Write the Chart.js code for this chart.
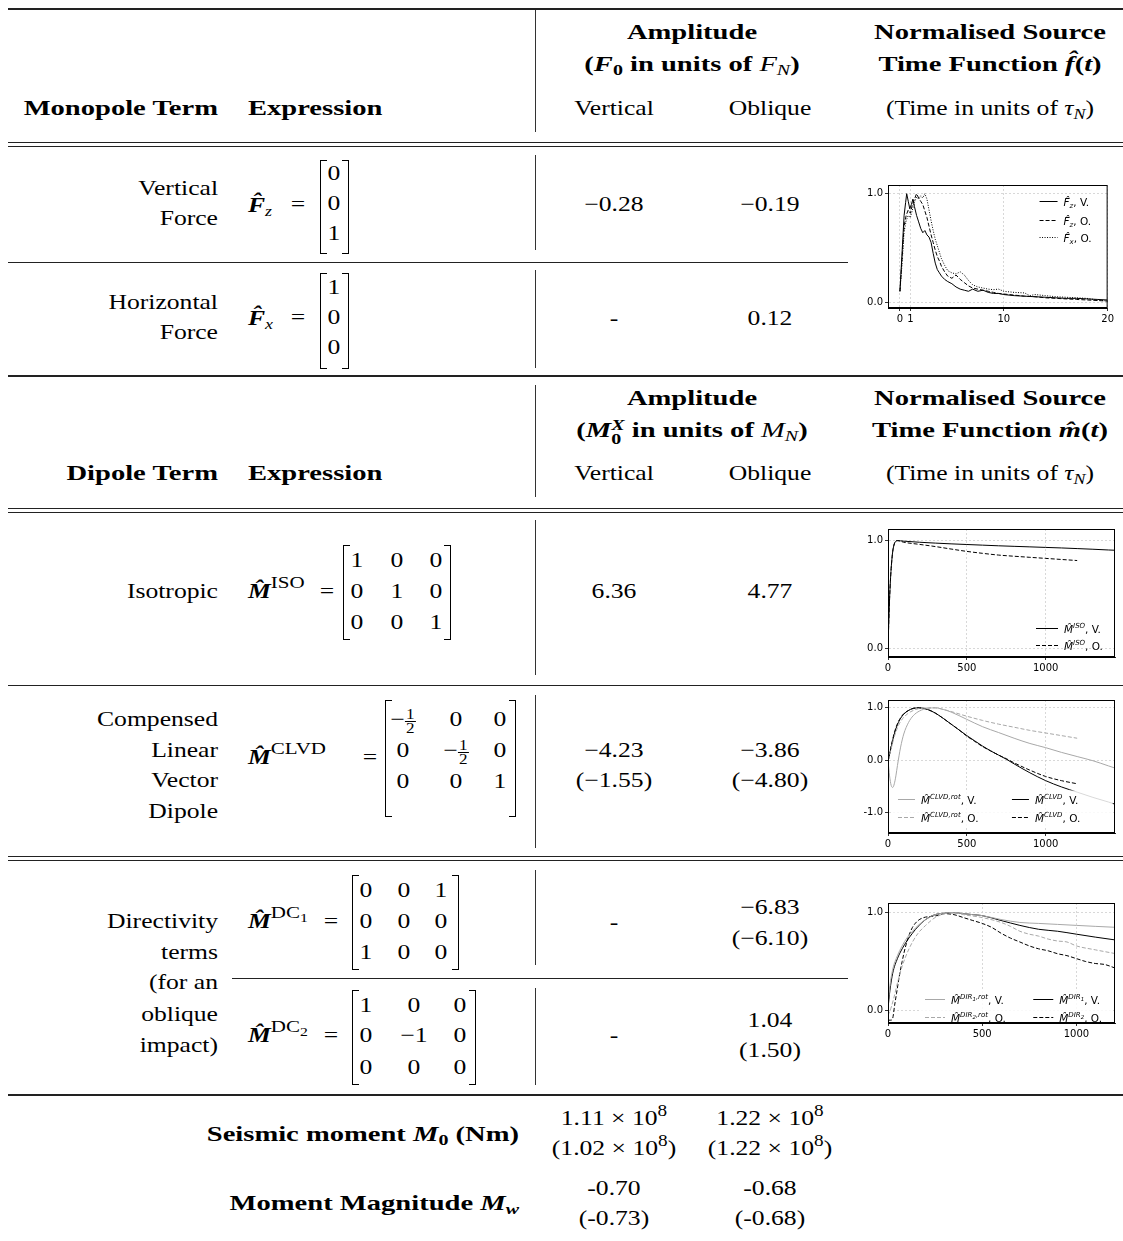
<!DOCTYPE html>
<html>
<head>
<meta charset="utf-8">
<script src="https://cdn.jsdelivr.net/npm/chart.js@4.4.0/dist/chart.umd.min.js"></script>
<style>
html, body { margin: 0; padding: 0; background: #fff; }
#page { position: relative; width: 1123px; height: 1241px; overflow: hidden; font-family: "Liberation Serif", serif; color: #000; }
.t { position: absolute; white-space: nowrap; font-size: 21px; line-height: 24px; transform-origin: 0 0; }
.t sub { font-size: 0.7em; vertical-align: -0.3em; line-height: 0; }
.t sup { font-size: 0.75em; vertical-align: 0.55em; line-height: 0; }
.t sup.m { font-size: 0.82em; vertical-align: 0.6em; }
.t sup sub { font-size: 0.75em; }
.n { font-weight: normal; }
.ss { display: inline-block; vertical-align: -0.45em; font-size: 0.7em; line-height: 0.95em; }
.ss span { display: block; }
.fr { display: inline-block; vertical-align: middle; font-size: 14px; line-height: 13px; text-align: center; }
.fr span { display: block; padding: 0 1px; }
.fr span:first-child { border-bottom: 1px solid #000; }
.rule { position: absolute; background: #222; }
.vr { position: absolute; width: 1px; background: #333; left: 535px; }
.br { position: absolute; width: 6px; border: 0 solid #000; }
canvas { position: absolute; }
</style>
</head>
<body>
<div id="page">
  <canvas id="c1" width="258" height="147" style="left:858px;top:177px"></canvas>
  <canvas id="c2" width="263" height="152" style="left:858px;top:521px"></canvas>
  <canvas id="c3" width="263" height="157" style="left:858px;top:692px"></canvas>
  <canvas id="c4" width="263" height="144" style="left:858px;top:895px"></canvas>
</div>
<script>
// ---- mini chart 1: force source time functions (time in tau_N) ----
const fzV_t = [0, 0.2, 0.4, 0.55, 0.65, 0.8, 0.95, 1.1, 1.25, 1.4, 1.6, 1.8, 2.0, 2.2, 2.4, 2.6, 2.8, 3.0, 3.2, 3.4, 3.6, 3.8, 4.0, 4.3, 4.6, 5.0, 5.4, 5.8, 6.2, 6.6, 7.0, 7.5, 8.0, 8.5, 9.0, 9.5, 10, 11, 12, 13, 14, 15, 16, 17, 18, 19, 20];
const fzV   = [0.10, 0.45, 0.80, 0.92, 1.00, 0.93, 0.86, 0.90, 0.95, 0.88, 0.80, 0.74, 0.68, 0.64, 0.66, 0.62, 0.60, 0.55, 0.45, 0.36, 0.30, 0.27, 0.24, 0.21, 0.19, 0.17, 0.14, 0.12, 0.11, 0.10, 0.12, 0.10, 0.11, 0.09, 0.08, 0.08, 0.07, 0.06, 0.055, 0.05, 0.045, 0.04, 0.035, 0.035, 0.03, 0.025, 0.02];
const fzO_t = [0, 0.2, 0.4, 0.6, 0.8, 1.0, 1.2, 1.4, 1.6, 1.8, 2.0, 2.2, 2.4, 2.6, 2.8, 3.0, 3.2, 3.4, 3.6, 3.8, 4.0, 4.3, 4.6, 5.0, 5.4, 5.8, 6.2, 6.6, 7.0, 7.5, 8.0, 8.5, 9.0, 9.5, 10, 11, 12, 13, 14, 15, 16, 17, 18, 19, 20];
const fzO   = [0.10, 0.40, 0.70, 0.80, 0.85, 0.82, 0.90, 0.95, 1.00, 0.96, 0.93, 0.90, 0.84, 0.78, 0.70, 0.62, 0.55, 0.48, 0.42, 0.38, 0.33, 0.28, 0.24, 0.22, 0.25, 0.21, 0.18, 0.15, 0.13, 0.12, 0.11, 0.10, 0.09, 0.08, 0.075, 0.065, 0.055, 0.05, 0.04, 0.035, 0.03, 0.025, 0.02, 0.015, 0.01];
const fxO_t = [0, 0.2, 0.4, 0.6, 0.8, 1.0, 1.2, 1.4, 1.6, 1.8, 2.0, 2.2, 2.4, 2.6, 2.8, 3.0, 3.2, 3.4, 3.6, 3.8, 4.0, 4.3, 4.6, 5.0, 5.4, 5.8, 6.2, 6.6, 7.0, 7.5, 8.0, 8.5, 9.0, 9.5, 10, 11, 12, 12.5, 13, 14, 15, 16, 17, 18, 19, 20];
const fxO   = [0.10, 0.35, 0.65, 0.75, 0.80, 0.78, 0.85, 0.92, 0.97, 0.95, 0.98, 0.96, 1.00, 0.95, 0.85, 0.75, 0.66, 0.58, 0.52, 0.46, 0.40, 0.34, 0.29, 0.27, 0.26, 0.28, 0.25, 0.20, 0.16, 0.14, 0.13, 0.12, 0.115, 0.12, 0.10, 0.09, 0.085, 0.06, 0.07, 0.06, 0.05, 0.045, 0.04, 0.035, 0.02, 0.01];

// ---- mini chart 2: isotropic ----
const isoV_t = [0, 5, 10, 15, 20, 25, 30, 40, 50, 60, 100, 200, 300, 400, 500, 600, 700, 800, 900, 1000, 1100, 1200, 1300, 1400, 1450];
const isoV   = [0, 0.25, 0.46, 0.62, 0.74, 0.83, 0.90, 0.97, 0.995, 1.0, 0.995, 0.985, 0.977, 0.970, 0.964, 0.958, 0.952, 0.947, 0.942, 0.937, 0.932, 0.926, 0.920, 0.913, 0.910];
const isoO_t = [0, 5, 10, 15, 20, 25, 30, 40, 50, 60, 100, 200, 300, 400, 500, 600, 700, 800, 900, 1000, 1100, 1200];
const isoO   = [0, 0.25, 0.46, 0.62, 0.74, 0.83, 0.90, 0.97, 0.995, 1.0, 0.985, 0.965, 0.945, 0.922, 0.900, 0.882, 0.866, 0.855, 0.845, 0.835, 0.825, 0.815];

// ---- mini chart 3: CLVD ----
const clvdV_t = [0, 20, 40, 60, 80, 100, 130, 160, 200, 250, 300, 350, 400, 450, 500, 550, 600, 650, 700, 750, 800, 900, 1000, 1100, 1200, 1300, 1400, 1450];
const clvdV   = [-0.03, 0.25, 0.50, 0.68, 0.80, 0.88, 0.95, 0.99, 1.0, 0.97, 0.90, 0.80, 0.69, 0.58, 0.47, 0.37, 0.27, 0.18, 0.10, 0.02, -0.07, -0.24, -0.39, -0.51, -0.61, -0.71, -0.80, -0.85];
const clvdO_t = [0, 20, 40, 60, 80, 100, 130, 160, 200, 250, 300, 350, 400, 450, 500, 550, 600, 650, 700, 750, 800, 900, 1000, 1100, 1200];
const clvdO   = [-0.03, 0.27, 0.52, 0.70, 0.81, 0.89, 0.95, 0.99, 1.0, 0.97, 0.90, 0.80, 0.69, 0.58, 0.46, 0.36, 0.26, 0.18, 0.10, 0.03, -0.05, -0.19, -0.31, -0.39, -0.45];
const clvdRotV_t = [0, 10, 20, 30, 40, 50, 60, 80, 100, 130, 160, 200, 250, 300, 350, 400, 500, 600, 700, 800, 900, 1000, 1100, 1200, 1300, 1400, 1450];
const clvdRotV   = [0, -0.30, -0.48, -0.52, -0.45, -0.30, -0.10, 0.25, 0.50, 0.72, 0.85, 0.94, 0.99, 1.0, 0.97, 0.92, 0.78, 0.64, 0.53, 0.42, 0.32, 0.24, 0.15, 0.07, -0.01, -0.11, -0.16];
const clvdRotO_t = [0, 20, 40, 60, 80, 100, 130, 160, 200, 250, 300, 350, 400, 500, 600, 700, 800, 900, 1000, 1100, 1200];
const clvdRotO   = [0, 0.22, 0.45, 0.62, 0.74, 0.82, 0.90, 0.95, 0.99, 1.0, 1.0, 0.97, 0.93, 0.84, 0.76, 0.69, 0.63, 0.57, 0.52, 0.47, 0.42];

// ---- mini chart 4: directivity ----
const dir1V_t = [0, 10, 25, 50, 75, 100, 130, 160, 200, 250, 300, 350, 400, 450, 500, 600, 700, 800, 900, 1000, 1100, 1210];
const dir1V   = [0.02, 0.20, 0.38, 0.53, 0.63, 0.71, 0.79, 0.86, 0.93, 0.98, 0.995, 1.0, 0.99, 0.98, 0.97, 0.92, 0.87, 0.83, 0.81, 0.78, 0.75, 0.72];
const dir1RotV = [0.05, 0.25, 0.42, 0.56, 0.66, 0.74, 0.81, 0.87, 0.93, 0.98, 0.995, 1.0, 0.99, 0.98, 0.97, 0.93, 0.90, 0.89, 0.88, 0.87, 0.86, 0.85];
const dir2O_t = [0, 15, 25, 35, 45, 60, 75, 90, 110, 130, 160, 190, 220, 260, 300, 350, 400, 450, 500, 550, 600, 650, 700, 750, 800, 850, 900, 950, 1000, 1050, 1100, 1150, 1210];
const dir2O   = [-0.10, -0.10, -0.08, 0.05, 0.17, 0.35, 0.50, 0.63, 0.76, 0.85, 0.92, 0.95, 0.96, 0.97, 0.99, 0.98, 0.95, 0.92, 0.89, 0.85, 0.79, 0.74, 0.70, 0.66, 0.63, 0.61, 0.58, 0.56, 0.53, 0.50, 0.48, 0.47, 0.43];
const dir2RotO_t = [0, 15, 30, 50, 75, 100, 130, 160, 200, 250, 300, 350, 400, 500, 600, 650, 700, 750, 800, 850, 900, 950, 1000, 1100, 1210];
const dir2RotO   = [-0.05, 0.02, 0.12, 0.28, 0.45, 0.58, 0.70, 0.79, 0.87, 0.95, 0.99, 1.0, 0.98, 0.95, 0.90, 0.86, 0.81, 0.78, 0.76, 0.73, 0.71, 0.70, 0.66, 0.62, 0.58];

// ---- table text ----
const page = document.getElementById("page");
const SX = 1.22, SXB = 1.36;

function label(html, x, y, align, bold) {
    const d = document.createElement("div");
    d.className = "t";
    d.innerHTML = html;
    if (bold) d.style.fontWeight = "bold";
    d.style.left = x + "px";
    d.style.top = (y - 12) + "px";
    const s = bold ? SXB : SX;
    const tr = { l: "", c: " translateX(-50%)", r: " translateX(-100%)" }[align];
    d.style.transform = `scaleX(${s})` + tr;
    page.appendChild(d);
}

function rule(x0, x1, y, h) {
    const d = document.createElement("div");
    d.className = "rule";
    Object.assign(d.style, { left: x0 + "px", width: (x1 - x0) + "px", top: y + "px", height: h + "px" });
    page.appendChild(d);
}

function vrule(y0, y1) {
    const d = document.createElement("div");
    d.className = "vr";
    Object.assign(d.style, { top: y0 + "px", height: (y1 - y0) + "px" });
    page.appendChild(d);
}

function matrix(xl, xr, top, bottom, cols, rows, cells) {
    const lb = document.createElement("div");
    lb.className = "br";
    Object.assign(lb.style, { left: xl + "px", top: top + "px", height: (bottom - top) + "px",
        borderLeftWidth: "1.5px", borderTopWidth: "1.5px", borderBottomWidth: "1.5px" });
    const rb = document.createElement("div");
    rb.className = "br";
    Object.assign(rb.style, { left: (xr - 6) + "px", top: top + "px", height: (bottom - top) + "px",
        borderRightWidth: "1.5px", borderTopWidth: "1.5px", borderBottomWidth: "1.5px" });
    page.appendChild(lb);
    page.appendChild(rb);
    cells.forEach((row, i) => row.forEach((c, j) => label(c, cols[j], rows[i], "c", false)));
}

const HALF = '−<span class="fr"><span>1</span><span>2</span></span>';
const MHAT = '<b><i>M̂</i></b>';

// rules
rule(8, 1123, 8, 2);
rule(8, 1123, 142, 1); rule(8, 1123, 146, 1);
rule(8, 848, 262, 1);
rule(8, 1123, 375, 2);
rule(8, 1123, 508, 1); rule(8, 1123, 512, 1);
rule(8, 1123, 685, 1);
rule(8, 1123, 856, 1); rule(8, 1123, 860, 1);
rule(232, 848, 978, 1);
rule(8, 1123, 1094, 2);
[[10, 132], [155, 250], [270, 368], [385, 497], [520, 675], [695, 848], [870, 965], [988, 1085]].forEach(s => vrule(s[0], s[1]));

// monopole header
label("Amplitude", 692, 32, "c", true);
label('(<i>F</i><sub>0</sub> in units of <span class="n"><i>F</i><sub><i>N</i></sub></span>)', 692, 64, "c", true);
label("Normalised Source", 990, 32, "c", true);
label("Time Function <i>f̂</i>(<i>t</i>)", 990, 64, "c", true);
label("Monopole Term", 218, 108, "r", true);
label("Expression", 248, 108, "l", true);
label("Vertical", 614, 108, "c");
label("Oblique", 770, 108, "c");
label("(Time in units of <i>τ</i><sub><i>N</i></sub>)", 990, 108, "c");

// vertical / horizontal force
label("Vertical", 218, 188, "r"); label("Force", 218, 218, "r");
label('<b><i>F̂</i></b><sub><i>z</i></sub>', 248, 205, "l"); label("=", 298, 204, "c");
matrix(320, 348, 160, 252, [334], [173, 203, 233], [["0"], ["0"], ["1"]]);
label("−0.28", 614, 204, "c"); label("−0.19", 770, 204, "c");
label("Horizontal", 218, 302, "r"); label("Force", 218, 332, "r");
label('<b><i>F̂</i></b><sub><i>x</i></sub>', 248, 318, "l"); label("=", 298, 317, "c");
matrix(320, 348, 273, 367, [334], [287, 317, 347], [["1"], ["0"], ["0"]]);
label("-", 614, 318, "c"); label("0.12", 770, 318, "c");

// dipole header
label("Amplitude", 692, 398, "c", true);
label('(<i>M</i><span class="ss"><span><i>X</i></span><span>0</span></span> in units of <span class="n"><i>M</i><sub><i>N</i></sub></span>)', 692, 430, "c", true);
label("Normalised Source", 990, 398, "c", true);
label("Time Function <i>m̂</i>(<i>t</i>)", 990, 430, "c", true);
label("Dipole Term", 218, 473, "r", true);
label("Expression", 248, 473, "l", true);
label("Vertical", 614, 473, "c");
label("Oblique", 770, 473, "c");
label("(Time in units of <i>τ</i><sub><i>N</i></sub>)", 990, 473, "c");

// isotropic
label("Isotropic", 218, 591, "r");
label(MHAT + '<sup class="m">ISO</sup>', 248, 591, "l"); label("=", 327, 591, "c");
matrix(343, 450, 545, 638, [357, 397, 436], [560, 591, 622], [["1", "0", "0"], ["0", "1", "0"], ["0", "0", "1"]]);
label("6.36", 614, 591, "c"); label("4.77", 770, 591, "c");

// CLVD
label("Compensed", 218, 719, "r"); label("Linear", 218, 750, "r");
label("Vector", 218, 780, "r"); label("Dipole", 218, 811, "r");
label(MHAT + '<sup class="m">CLVD</sup>', 248, 757, "l"); label("=", 370, 757, "c");
matrix(385, 515, 700, 815, [403, 456, 500], [719, 750, 781], [[HALF, "0", "0"], ["0", HALF, "0"], ["0", "0", "1"]]);
label("−4.23", 614, 750, "c"); label("(−1.55)", 614, 780, "c");
label("−3.86", 770, 750, "c"); label("(−4.80)", 770, 780, "c");

// directivity
label("Directivity", 218, 921, "r"); label("terms", 218, 952, "r");
label("(for an", 218, 982, "r"); label("oblique", 218, 1014, "r");
label("impact)", 218, 1045, "r");
label(MHAT + '<sup class="m">DC<sub>1</sub></sup>', 248, 921, "l"); label("=", 331, 921, "c");
matrix(352, 458, 875, 968, [366, 404, 441], [890, 921, 952], [["0", "0", "1"], ["0", "0", "0"], ["1", "0", "0"]]);
label("-", 614, 922, "c");
label("−6.83", 770, 907, "c"); label("(−6.10)", 770, 938, "c");
label(MHAT + '<sup class="m">DC<sub>2</sub></sup>', 248, 1035, "l"); label("=", 331, 1035, "c");
matrix(352, 475, 990, 1083, [366, 414, 460], [1005, 1035, 1067], [["1", "0", "0"], ["0", "−1", "0"], ["0", "0", "0"]]);
label("-", 614, 1035, "c");
label("1.04", 770, 1020, "c"); label("(1.50)", 770, 1050, "c");

// seismic moment / magnitude
label("Seismic moment <i>M</i><sub>0</sub> (Nm)", 519, 1134, "r", true);
label("1.11 × 10<sup>8</sup>", 614, 1118, "c"); label("(1.02 × 10<sup>8</sup>)", 614, 1148, "c");
label("1.22 × 10<sup>8</sup>", 770, 1118, "c"); label("(1.22 × 10<sup>8</sup>)", 770, 1148, "c");
label("Moment Magnitude <i>M<sub>w</sub></i>", 519, 1203, "r", true);
label("-0.70", 614, 1188, "c"); label("(-0.73)", 614, 1218, "c");
label("-0.68", 770, 1188, "c"); label("(-0.68)", 770, 1218, "c");

// ---- charts ----
const BLACK = "#000", GREY = "#a8a8a8";
const DASH = [4, 2], DOT = [1, 1.5];

function pts(t, y) {
    return t.map((v, i) => ({ x: v, y: y[i] }));
}

function series(t, y, color, dash, smooth) {
    return {
        data: pts(t, y),
        borderColor: color,
        borderWidth: 1,
        borderDash: dash,
        pointRadius: 0,
        fill: false,
        cubicInterpolationMode: smooth ? "monotone" : "default",
        tension: 0,
    };
}

const framePlugin = {
    id: "frame",
    afterDraw(chart) {
        const a = chart.chartArea, c = chart.ctx;
        c.save();
        c.strokeStyle = "#000";
        c.lineWidth = 1;
        c.strokeRect(a.left + 0.5, a.top + 0.5, a.right - a.left - 1, a.bottom - a.top - 1);
        c.restore();
    }
};

const inLegend = {
    id: "inlegend",
    afterDatasetsDraw(chart, args, o) {
        if (!o.items) return;
        const a = chart.chartArea, c = chart.ctx;
        const W = a.right - a.left, H = a.bottom - a.top;
        c.save();
        if (o.box) {
            const [x0, y0, x1, y1] = o.box;
            c.fillStyle = "rgba(255,255,255,0.85)";
            c.fillRect(a.left + x0 * W, a.top + y0 * H, (x1 - x0) * W, (y1 - y0) * H);
        }
        for (const it of o.items) {
            const ds = chart.data.datasets[it.ds];
            const x = a.left + it.fx * W, y = Math.round(a.top + it.fy * H) + 0.5;
            c.strokeStyle = ds.borderColor;
            c.lineWidth = ds.borderWidth;
            c.setLineDash(ds.borderDash || []);
            c.beginPath();
            c.moveTo(x, y);
            c.lineTo(x + o.len, y);
            c.stroke();
            c.setLineDash([]);
            let tx = x + o.len + 6;
            c.fillStyle = "#000";
            for (const [txt, st] of it.segs) {
                let size = 10.5, dy = 4;
                if (st.includes("p")) { size = 7; dy = -0.5; }
                if (st.includes("s")) { size = 7; dy = 6; }
                if (st.includes("q")) { size = 5.5; dy = 1.5; }
                c.font = (st.includes("i") ? "italic " : "") + size + 'px "DejaVu Sans"';
                c.fillText(txt, tx, y + dy);
                tx += c.measureText(txt).width;
            }
        }
        c.restore();
    }
};

function axis(min, max, ticks, fmt, isY) {
    return {
        type: "linear",
        min: min,
        max: max,
        afterBuildTicks: s => { s.ticks = ticks.map(v => ({ value: v })); },
        afterFit: s => { if (isY) s.width = 30; else s.height = 16; },
        ticks: {
            callback: fmt,
            color: "#000",
            font: { family: "DejaVu Sans", size: 10 },
            padding: 2,
            autoSkip: false,
            maxRotation: 0,
        },
        grid: { color: "#cfcfcf", lineWidth: 0.8, tickColor: "#000", tickLength: 3, tickBorderDash: [] },
        border: { display: true, color: "#000", dash: [2, 2] },
    };
}

function miniChart(id, datasets, x, y, legend) {
    return new Chart(document.getElementById(id), {
        type: "line",
        data: { datasets: datasets },
        options: {
            responsive: false,
            animation: false,
            devicePixelRatio: 1,
            layout: { padding: { top: 4, right: legend.padRight, left: 0, bottom: 0 } },
            plugins: {
                legend: { display: false },
                tooltip: { enabled: false },
                inlegend: legend,
            },
            scales: { x: x, y: y },
        },
        plugins: [inLegend, framePlugin],
    });
}

const fmtY = v => v.toFixed(1);
const fmtX = v => String(v);

miniChart("c1", [
    series(fzV_t, fzV, BLACK, [], false),
    series(fzO_t, fzO, BLACK, DASH, false),
    series(fxO_t, fxO, BLACK, DOT, false),
], axis(-1.15, 20, [0, 1, 10, 20], fmtX, false), axis(-0.054, 1.08, [0, 1], fmtY, true), {
    padRight: 8, len: 18,
    items: [
        { ds: 0, fx: 0.69, fy: 0.134, segs: [["F̂", "i"], ["z", "is"], [", V.", ""]] },
        { ds: 1, fx: 0.69, fy: 0.287, segs: [["F̂", "i"], ["z", "is"], [", O.", ""]] },
        { ds: 2, fx: 0.69, fy: 0.425, segs: [["F̂", "i"], ["x", "is"], [", O.", ""]] },
    ],
});

miniChart("c2", [
    series(isoV_t, isoV, BLACK, [], true),
    series(isoO_t, isoO, BLACK, DASH, true),
], axis(0, 1440, [0, 500, 1000], fmtX, false), axis(-0.081, 1.108, [0, 1], fmtY, true), {
    padRight: 6, len: 22,
    items: [
        { ds: 0, fx: 0.652, fy: 0.77, segs: [["M̂", "i"], ["ISO", "ip"], [", V.", ""]] },
        { ds: 1, fx: 0.652, fy: 0.904, segs: [["M̂", "i"], ["ISO", "ip"], [", O.", ""]] },
    ],
});

miniChart("c3", [
    series(clvdRotV_t, clvdRotV, GREY, [], true),
    series(clvdRotO_t, clvdRotO, GREY, DASH, true),
    series(clvdV_t, clvdV, BLACK, [], true),
    series(clvdO_t, clvdO, BLACK, DASH, true),
], axis(0, 1440, [0, 500, 1000], fmtX, false), axis(-1.39, 1.15, [-1, 0, 1], fmtY, true), {
    padRight: 6, len: 17, box: [0.02, 0.68, 0.99, 0.95],
    items: [
        { ds: 0, fx: 0.044, fy: 0.745, segs: [["M̂", "i"], ["CLVD,rot", "ip"], [", V.", ""]] },
        { ds: 1, fx: 0.044, fy: 0.876, segs: [["M̂", "i"], ["CLVD,rot", "ip"], [", O.", ""]] },
        { ds: 2, fx: 0.546, fy: 0.745, segs: [["M̂", "i"], ["CLVD", "ip"], [", V.", ""]] },
        { ds: 3, fx: 0.546, fy: 0.876, segs: [["M̂", "i"], ["CLVD", "ip"], [", O.", ""]] },
    ],
});

miniChart("c4", [
    series(dir1V_t, dir1RotV, GREY, [], true),
    series(dir2RotO_t, dir2RotO, GREY, DASH, true),
    series(dir1V_t, dir1V, BLACK, [], true),
    series(dir2O_t, dir2O, BLACK, DASH, true),
], axis(0, 1205, [0, 500, 1000], fmtX, false), axis(-0.129, 1.099, [0, 1], fmtY, true), {
    padRight: 6, len: 20, box: [0.14, 0.72, 0.99, 0.99],
    items: [
        { ds: 0, fx: 0.163, fy: 0.80, segs: [["M̂", "i"], ["DIR", "ip"], ["1", "iq"], [",rot", "ip"], [", V.", ""]] },
        { ds: 1, fx: 0.163, fy: 0.95, segs: [["M̂", "i"], ["DIR", "ip"], ["2", "iq"], [",rot", "ip"], [", O.", ""]] },
        { ds: 2, fx: 0.64, fy: 0.80, segs: [["M̂", "i"], ["DIR", "ip"], ["1", "iq"], [", V.", ""]] },
        { ds: 3, fx: 0.64, fy: 0.95, segs: [["M̂", "i"], ["DIR", "ip"], ["2", "iq"], [", O.", ""]] },
    ],
});
</script>
</body>
</html>
